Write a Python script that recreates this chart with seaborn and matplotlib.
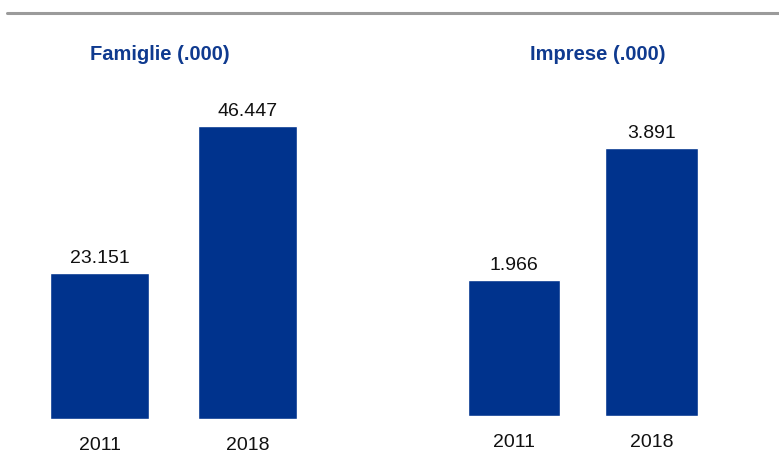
import matplotlib
matplotlib.use("Agg")
import matplotlib.pyplot as plt
import seaborn as sns
import pandas as pd
from matplotlib.lines import Line2D

sns.set_style("white")
plt.rcParams['font.family'] = ['Liberation Sans', 'DejaVu Sans']

anni = ["2011", "2018"]
famiglie = [23151, 46447]
imprese = [1966, 3891]
titoli = ["Famiglie (.000)", "Imprese (.000)"]

BAR = "#00338d"
TITLE = "#0f3a8f"

W, H = 779, 456
fig = plt.figure(figsize=(W / 100, H / 100), dpi=100)

def fmt_it(v):
    return f"{v:,.0f}".replace(",", ".")

def panel(rect, valori, ymax, titolo, tx):
    ax = fig.add_axes(rect)
    df = pd.DataFrame({"anno": anni, "valore": valori})
    sns.barplot(data=df, x="anno", y="valore", color=BAR, saturation=1,
                width=0.67, ax=ax)
    ax.set_xlim(-0.5, 1.5)
    ax.set_ylim(0, ymax)
    for c in ax.containers:
        ax.bar_label(c, labels=[fmt_it(v) for v in valori], padding=5,
                     fontsize=14, color="#111111")
    ax.set_xlabel("")
    ax.set_ylabel("")
    ax.set_yticks([])
    ax.tick_params(axis="x", length=0, pad=12.5, labelsize=14, labelcolor="#111111")
    for s in ax.spines.values():
        s.set_visible(False)
    fig.text(tx / W, 1 - 54 / H, titolo, ha="center", va="center",
             fontsize=14.5, fontweight="bold", color=TITLE)
    return ax

# left panel
panel([25.8 / W, 36 / H, 295.6 / W, 320 / H], famiglie,
      320 / 293 * famiglie[1], titoli[0], 159.7)
# right panel
panel([444.8 / W, 39.3 / H, 275.6 / W, 316.7 / H], imprese,
      316.7 / 267.7 * imprese[1], titoli[1], 597.8)

fig.add_artist(Line2D([7 / W, 1.0], [1 - 13.8 / H, 1 - 13.8 / H],
                      transform=fig.transFigure, color="#9b9b9b", lw=2.2))

fig.savefig("out.png", dpi=100)
